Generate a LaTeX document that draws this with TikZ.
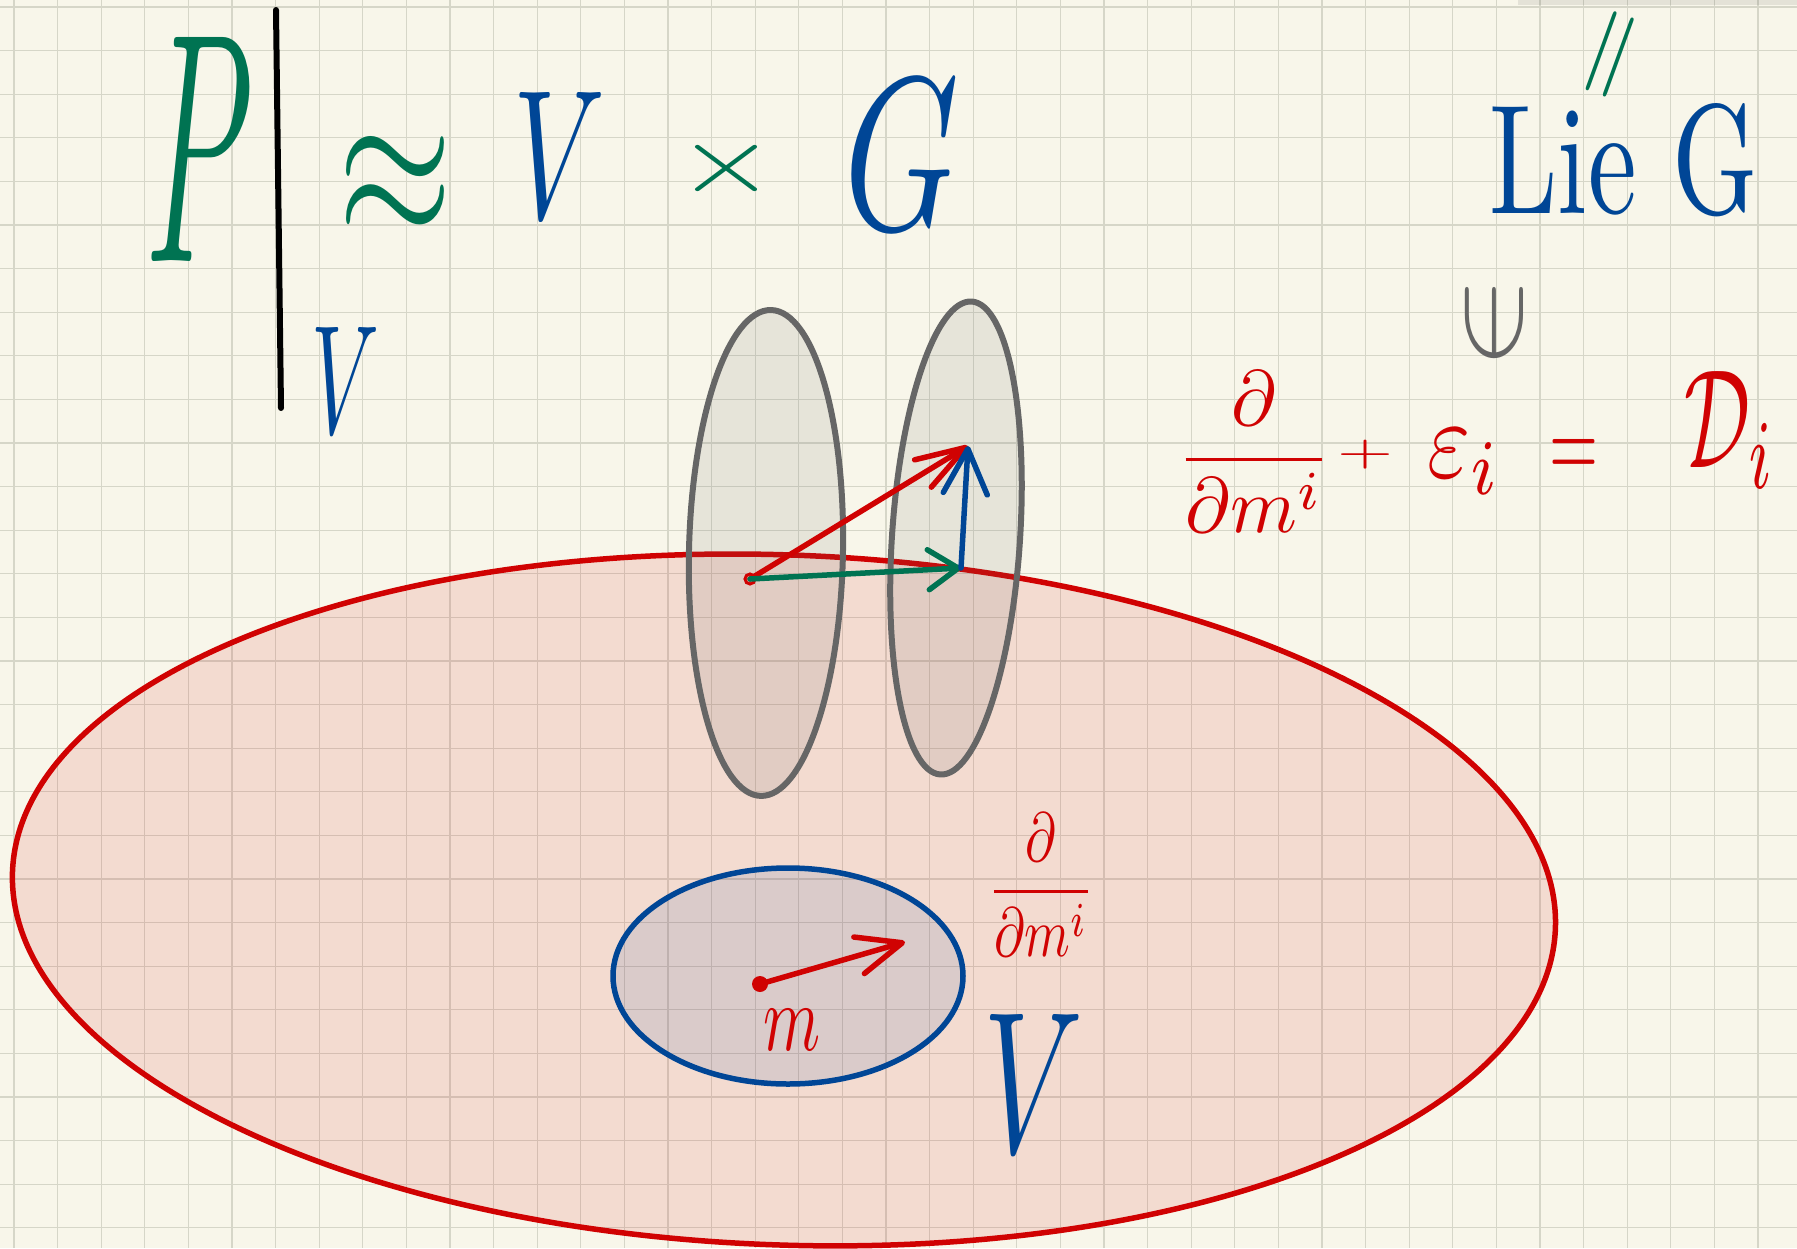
\documentclass[tikz,border=0pt]{standalone}
\usepackage{amsmath,amssymb}
\usepackage{graphicx}
\usetikzlibrary{arrows.meta}
% Farben
\definecolor{papier}{RGB}{248,246,234}
\definecolor{gitter}{RGB}{214,214,200}
\definecolor{rot}{RGB}{208,2,2}
\definecolor{blau}{RGB}{0,70,150}
\definecolor{gruen}{RGB}{0,115,82}
\definecolor{grau}{RGB}{102,102,102}

\begin{document}
\begin{tikzpicture}[x=1pt, y=-1pt,
		ink/.style={inner sep=0pt, outer sep=0pt},
		faser/.style={draw=grau, line width=6pt, fill=grau, fill opacity=0.12},
		pfeil/.style 2 args={line width=5.5pt, line cap=round, -{Straight Barb[round, length=#1, width=#2]}}]
		\useasboundingbox (0,0) rectangle (1797,1248);
		\clip (0,0) rectangle (1797,1248);
		% Papier mit Gitter
		\fill[papier] (0,0) rectangle (1797,1248);
		\foreach \i in {0,...,41} \draw[gitter, line width=1.3pt] ({14+43.6*\i},0) -- ({14+43.6*\i},1248);
		\foreach \j in {0,...,28} \draw[gitter, line width=1.3pt] (0,{7+43.6*\j}) -- (1797,{7+43.6*\j});
		\fill[black, opacity=0.08] (1518,0) rectangle (1797,5);
		% Flaechen
		\coordinate (U) at (784,900);
		\coordinate (W) at (788,976);
		\coordinate (F1) at (766,553);
		\coordinate (F2) at (956,538);
		\draw[rot, line width=5.5pt, fill=rot, fill opacity=0.11, rotate around={-2.1:(U)}] (U) ellipse [x radius=772, y radius=345];
		\draw[blau, line width=5.5pt, fill=blau, fill opacity=0.1] (W) ellipse [x radius=175, y radius=108];
		\draw[faser, rotate around={-1.2:(F1)}] (F1) ellipse [x radius=77, y radius=243];
		\draw[faser, rotate around={-3.8:(F2)}] (F2) ellipse [x radius=64, y radius=237];
		% Vektoren
		\coordinate (p) at (750,579);
		\coordinate (q) at (968,446);
		\coordinate (r) at (961,568);
		\draw[rot, line width=3pt] (p) circle [radius=5];
		\draw[pfeil={50pt}{32pt}, rot] (p) -- (q);
		\draw[pfeil={30pt}{40pt}, gruen] (p) -- (r);
		\draw[pfeil={45pt}{44pt}, blau] (r) -- (q);
		\coordinate (m0) at (760,984);
		\coordinate (m1) at (905,942);
		\fill[rot] (m0) circle [radius=8];
		\draw[pfeil={45pt}{38pt}, rot] (m0) -- (m1);
		% Formel oben links
		\draw[line width=6pt, line cap=round] (276,10) -- (281,408);
		\node[ink, gruen] (P) at (200,149) {\resizebox{107pt}{224pt}{$P$}};
		\node[ink, blau] (Vsub) at (346,380) {\resizebox{68pt}{106pt}{$V$}};
		\node[ink, gruen] (approx) at (396,186) {\resizebox{114pt}{100pt}{$\approx$}};
		\node[ink, blau] (V) at (559,155) {\resizebox{92pt}{126pt}{$V$}};
		\node[ink, gruen] (times) at (727,168) {\resizebox{100pt}{56pt}{$\times$}};
		\node[ink, blau] (G) at (902,155) {\resizebox{115pt}{149pt}{$G$}};
		% Formel rechts
		\node[ink, gruen, rotate=70] (gleich) at (1610,54) {\resizebox{84pt}{22pt}{\kern-.56pt\raisebox{0pt}[2.34pt][0pt]{\raisebox{-1.33pt}{$=$}}\kern-.56pt}};
		\node[ink, blau] (lie) at (1624,160) {\resizebox{269pt}{110pt}{Lie G}};
		\node[ink, grau, rotate=90] (enth) at (1494,323) {\resizebox*{95pt}{58pt}{$\in$}};
		\node[ink, rot] (dm) at (1254,452) {\resizebox*{155pt}{161pt}{$\dfrac{\partial}{\partial m^i}$}};
		\node[ink, rot] (plus) at (1365,455) {\resizebox*{56pt}{29pt}{$+$}};
		\node[ink, rot] (eps) at (1464,462) {\resizebox*{74pt}{65pt}{$\varepsilon_i$}};
		\node[ink, rot] (eq) at (1574,459) {\resizebox{49pt}{39pt}{$=$}};
		\node[ink, rot] (D) at (1730,430) {\resizebox*{91pt}{117pt}{$\mathcal{D}_i$}};
		% unten
		\node[ink, rot] (dm2) at (1041,885) {\resizebox*{106pt}{143pt}{$\dfrac{\partial}{\partial m^i}$}};
		\node[ink, rot] (m) at (792,1030) {\resizebox{57pt}{41pt}{$m$}};
		\node[ink, blau] (V2) at (1033,1083) {\resizebox{100pt}{138pt}{$V$}};
	\end{tikzpicture}
\end{document}
